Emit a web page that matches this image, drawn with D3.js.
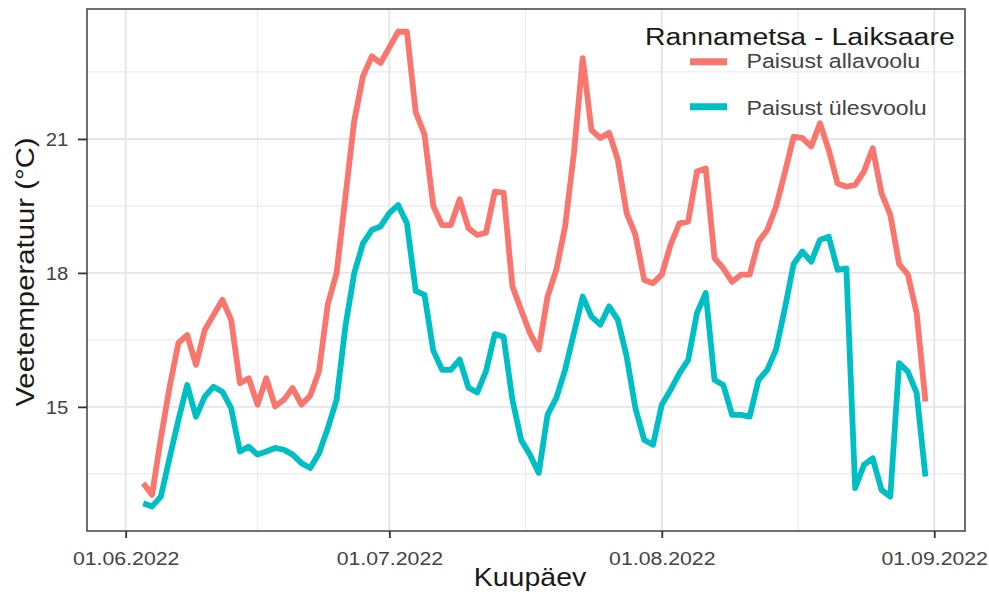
<!DOCTYPE html>
<html><head><meta charset="utf-8">
<script src="https://cdn.jsdelivr.net/npm/d3@7"></script>
<style>body{margin:0;background:#fff;} svg{display:block;font-family:"Liberation Sans",Arial,Helvetica,sans-serif;}</style>
</head><body><svg id="c" width="989" height="596"></svg>
<script>
const dates = [
"2022-06-03","2022-06-04","2022-06-05","2022-06-06","2022-06-07","2022-06-08","2022-06-09","2022-06-10","2022-06-11","2022-06-12",
"2022-06-13","2022-06-14","2022-06-15","2022-06-16","2022-06-17","2022-06-18","2022-06-19","2022-06-20","2022-06-21","2022-06-22",
"2022-06-23","2022-06-24","2022-06-25","2022-06-26","2022-06-27","2022-06-28","2022-06-29","2022-06-30","2022-07-01","2022-07-02",
"2022-07-03","2022-07-04","2022-07-05","2022-07-06","2022-07-07","2022-07-08","2022-07-09","2022-07-10","2022-07-11","2022-07-12",
"2022-07-13","2022-07-14","2022-07-15","2022-07-16","2022-07-17","2022-07-18","2022-07-19","2022-07-20","2022-07-21","2022-07-22",
"2022-07-23","2022-07-24","2022-07-25","2022-07-26","2022-07-27","2022-07-28","2022-07-29","2022-07-30","2022-07-31","2022-08-01",
"2022-08-02","2022-08-03","2022-08-04","2022-08-05","2022-08-06","2022-08-07","2022-08-08","2022-08-09","2022-08-10","2022-08-11",
"2022-08-12","2022-08-13","2022-08-14","2022-08-15","2022-08-16","2022-08-17","2022-08-18","2022-08-19","2022-08-20","2022-08-21",
"2022-08-22","2022-08-23","2022-08-24","2022-08-25","2022-08-26","2022-08-27","2022-08-28","2022-08-29","2022-08-30","2022-08-31"];

const allavoolu = [
13.29,13.03,14.3,15.45,16.43,16.61,15.94,16.72,17.06,17.40,
16.95,15.53,15.64,15.05,15.64,15.01,15.16,15.42,15.05,15.25,
15.8,17.3,18.0,19.7,21.4,22.4,22.85,22.7,23.05,23.4,
23.4,21.6,21.1,19.5,19.07,19.07,19.65,19.0,18.85,18.9,
19.82,19.8,17.7,17.17,16.65,16.28,17.47,18.07,19.04,20.68,
22.81,21.2,21.02,21.14,20.53,19.34,18.85,17.84,17.77,17.96,
18.63,19.11,19.15,20.27,20.34,18.33,18.1,17.8,17.96,17.96,
18.7,18.96,19.48,20.25,21.05,21.02,20.83,21.35,20.75,20.0,
19.93,19.97,20.27,20.79,19.78,19.3,18.2,17.96,17.1,15.12];

const ulesvoolu = [
12.84,12.77,12.99,13.86,14.71,15.49,14.78,15.23,15.45,15.34,
14.97,14.0,14.11,13.93,14.0,14.08,14.04,13.93,13.74,13.63,
13.96,14.52,15.16,16.8,17.99,18.66,18.96,19.04,19.34,19.52,
19.11,17.6,17.51,16.26,15.83,15.83,16.06,15.43,15.32,15.8,
16.63,16.57,15.16,14.26,13.93,13.52,14.82,15.2,15.83,16.65,
17.47,17.02,16.84,17.25,16.95,16.13,14.97,14.26,14.15,15.05,
15.38,15.75,16.05,17.1,17.55,15.6,15.49,14.82,14.82,14.78,
15.6,15.83,16.28,17.2,18.2,18.48,18.25,18.74,18.81,18.07,
18.1,13.18,13.7,13.85,13.14,12.99,15.98,15.79,15.31,13.44];

const seriesNames = ["Paisust allavoolu", "Paisust ülesvoolu"];
const seriesColors = ["#F8766D", "#00BFC4"];
const legendTitle = "Rannametsa - Laiksaare";
const xTickDates = ["2022-06-01", "2022-07-01", "2022-08-01", "2022-09-01"];
const xTickLabels = ["01.06.2022", "01.07.2022", "01.08.2022", "01.09.2022"];
const yTicks = [15, 18, 21];
const yMinor = [13.5, 16.5, 19.5, 22.5];
const xLabel = "Kuupäev";
const yLabel = "Veetemperatuur (°C)";

const parse = d3.utcParse("%Y-%m-%d");
const P = {l: 87, r: 965, t: 9, b: 531};
const x = d3.scaleUtc()
  .domain([new Date(Date.UTC(2022, 4, 27, 14, 24)), new Date(Date.UTC(2022, 8, 4, 12))])
  .range([P.l, P.r]);
const y = d3.scaleLinear().domain([12.22, 23.91]).range([P.b, P.t]);

const svg = d3.select("#c");
svg.append("rect").attr("width", 989).attr("height", 596).attr("fill", "#fff");

const xt = xTickDates.map(parse);
const xMinor = d3.pairs(xt).map(([a, b]) => new Date((+a + +b) / 2));
const grid = svg.append("g");
grid.selectAll(".ymin").data(yMinor).join("line")
  .attr("x1", P.l).attr("x2", P.r).attr("y1", d => y(d)).attr("y2", d => y(d))
  .attr("stroke", "#EBEBEB").attr("stroke-width", 1.2);
grid.selectAll(".xmin").data(xMinor).join("line")
  .attr("y1", P.t).attr("y2", P.b).attr("x1", d => x(d)).attr("x2", d => x(d))
  .attr("stroke", "#EBEBEB").attr("stroke-width", 1.2);
grid.selectAll(".ymaj").data(yTicks).join("line")
  .attr("x1", P.l).attr("x2", P.r).attr("y1", d => y(d)).attr("y2", d => y(d))
  .attr("stroke", "#E6E6E6").attr("stroke-width", 1.9);
grid.selectAll(".xmaj").data(xt).join("line")
  .attr("y1", P.t).attr("y2", P.b).attr("x1", d => x(d)).attr("x2", d => x(d))
  .attr("stroke", "#E6E6E6").attr("stroke-width", 1.9);

const series = [allavoolu, ulesvoolu];
const line = d3.line().x((d, i) => x(parse(dates[i]))).y(d => y(d));
svg.append("g").selectAll("path").data(series).join("path")
  .attr("d", d => line(d)).attr("fill", "none")
  .attr("stroke", (d, i) => seriesColors[i]).attr("stroke-width", 5.8)
  .attr("stroke-linejoin", "round").attr("stroke-linecap", "butt");

svg.append("rect").attr("x", P.l).attr("y", P.t).attr("width", P.r - P.l).attr("height", P.b - P.t)
  .attr("fill", "none").attr("stroke", "#4d4d4d").attr("stroke-width", 1.6);

// axes
const xAxis = d3.axisBottom(x).tickValues(xt).tickFormat((d, i) => xTickLabels[i]).tickSize(7).tickPadding(0);
const gx = svg.append("g").attr("transform", `translate(0,${P.b})`).call(xAxis);
gx.select(".domain").remove();
gx.selectAll(".tick line").attr("stroke", "#333").attr("stroke-width", 1.8);
gx.selectAll(".tick text").attr("y", 34).attr("dy", null).attr("fill", "#444")
  .attr("font-size", 18.5).attr("font-family", "'Liberation Sans', Arial, sans-serif")
  .attr("transform", "scale(1.15,1)");

const ySx = 1.1;
const yAxis = d3.axisLeft(y).tickValues(yTicks).tickSize(9).tickPadding(0);
const gy = svg.append("g").attr("transform", `translate(${P.l},0)`).call(yAxis);
gy.select(".domain").remove();
gy.selectAll(".tick line").attr("stroke", "#333").attr("stroke-width", 1.8);
gy.selectAll(".tick text").attr("x", -18.7 / ySx).attr("dy", "0.36em").attr("fill", "#444")
  .attr("font-size", 18.5).attr("font-family", "'Liberation Sans', Arial, sans-serif")
  .attr("transform", `scale(${ySx},1)`);

function label(gx0, gy0, str, size, sx, anchor, fill, rot) {
  const g = svg.append("g").attr("transform", `translate(${gx0},${gy0})` + (rot ? ` rotate(${rot})` : ""));
  g.append("text").attr("transform", `scale(${sx},1)`).attr("text-anchor", anchor)
    .attr("font-size", size).attr("fill", fill).text(str);
}
label((P.l + P.r) / 2 + 4, 586, xLabel, 25, 1.14, "middle", "#1a1a1a");
label(33.5, 272, yLabel, 25.5, 1.15, "middle", "#1a1a1a", -90);

// legend
label(645, 45, legendTitle, 23.5, 1.21, "start", "#1a1a1a");
const lg = svg.append("g");
lg.selectAll("line").data(seriesNames).join("line")
  .attr("x1", 690).attr("x2", 727)
  .attr("y1", (d, i) => 61.7 + i * 45).attr("y2", (d, i) => 61.7 + i * 45)
  .attr("stroke", (d, i) => seriesColors[i]).attr("stroke-width", 7);
seriesNames.forEach((s, i) => label(746.5, 68.3 + i * 46.5, s, 20.5, 1.13, "start", "#444"));
</script></body></html>
